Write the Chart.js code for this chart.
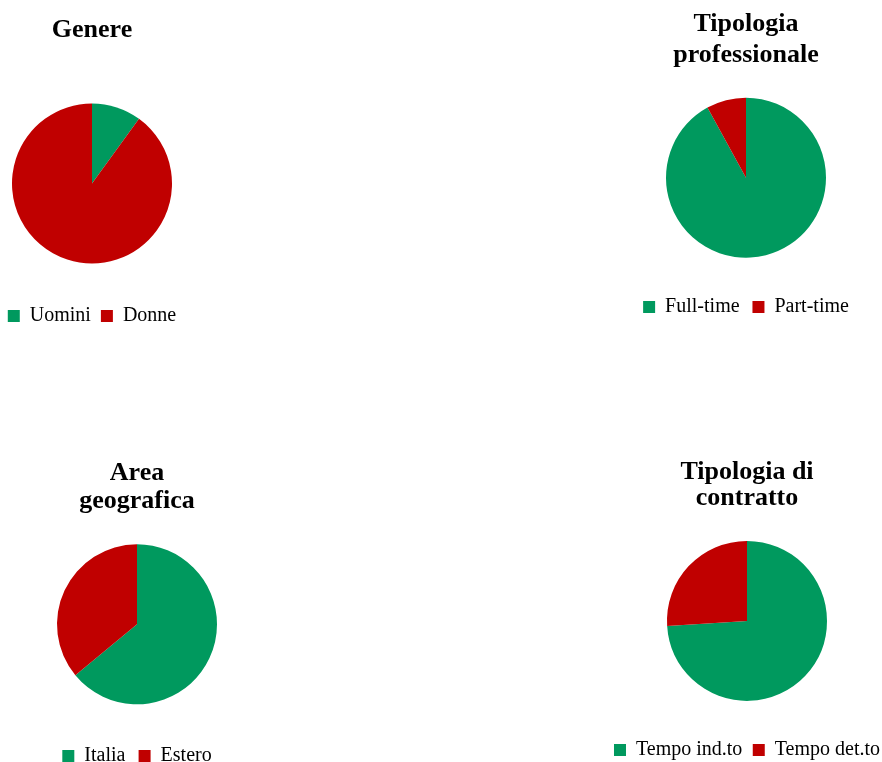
<!DOCTYPE html>
<html>
<head>
<meta charset="utf-8">
<script src="https://cdn.jsdelivr.net/npm/chart.js@4/dist/chart.umd.min.js"></script>
<style>
    html, body { margin: 0; padding: 0; background: #fff; overflow: hidden; }
    body { position: relative; width: 882px; height: 762px; }
    canvas { position: absolute; }
</style>
</head>
<body>
<canvas id="genere" width="200" height="336" style="left:-8px; top:0px"></canvas>
<canvas id="professione" width="250" height="327" style="left:621px; top:0px"></canvas>
<canvas id="area" width="220" height="376" style="left:27px; top:400px"></canvas>
<canvas id="contratto" width="292" height="370" style="left:601px; top:400px"></canvas>
<script>
// data (shares in %)
const genereLabels = ["Uomini", "Donne"];
const genereValues = [10, 90];

const professioneLabels = ["Full-time", "Part-time"];
const professioneValues = [92, 8];

const areaLabels = ["Italia", "Estero"];
const areaValues = [64, 36];

const contrattoLabels = ["Tempo ind.to", "Tempo det.to"];
const contrattoValues = [74, 26];

const sliceColors = ["#00995E", "#C00000"];

// one small pie: title on top, legend below
function makePie(id, title, labels, values, titleLine, titlePad, legendPad) {
    return new Chart(document.getElementById(id), {
        type: "pie",
        data: {
            labels: labels,
            datasets: [{
                data: values,
                backgroundColor: sliceColors,
                borderWidth: 0,
                radius: 80
            }]
        },
        options: {
            responsive: false,
            animation: false,
            devicePixelRatio: 1,
            plugins: {
                title: {
                    display: true,
                    text: title,
                    color: "#000",
                    font: { family: "Liberation Serif", size: 26, weight: "bold", lineHeight: titleLine },
                    padding: titlePad
                },
                legend: {
                    position: "bottom",
                    labels: {
                        color: "#000",
                        font: { family: "Liberation Serif", size: 20 },
                        boxWidth: 12,
                        boxHeight: 12,
                        padding: legendPad
                    }
                },
                tooltip: { enabled: false }
            }
        }
    });
}

makePie("genere", "Genere", genereLabels, genereValues, 1.1, { top: 16, bottom: 26.4 }, 10);
makePie("professione", ["Tipologia", "professionale"], professioneLabels, professioneValues, 1.2, { top: 8.9, bottom: 0 }, 12.9);
makePie("area", ["Area", "geografica"], areaLabels, areaValues, 1.08, { top: 59.6, bottom: 0 }, 13.2);
makePie("contratto", ["Tipologia di", "contratto"], contrattoLabels, contrattoValues, 1.03, { top: 58.6, bottom: 0 }, 10.4);
</script>
</body>
</html>
